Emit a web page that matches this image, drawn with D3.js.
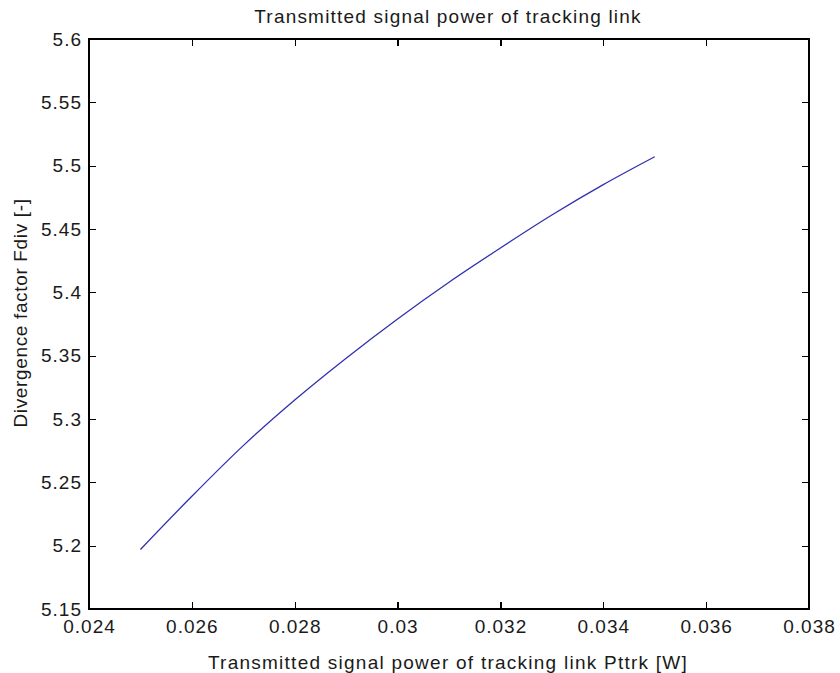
<!DOCTYPE html>
<html>
<head>
<meta charset="utf-8">
<script src="https://cdn.jsdelivr.net/npm/d3@7"></script>
<style>
  html, body { margin: 0; padding: 0; background: #fff; }
  svg text { font-family: "Liberation Sans", Arial, sans-serif; fill: #1a1a1a; }
</style>
</head>
<body>
<svg id="chart" width="840" height="673"></svg>
<script>
const titleText = "Transmitted signal power of tracking link";
const xLabelText = "Transmitted signal power of tracking link Pttrk [W]";
const yLabelText = "Divergence factor Fdiv [-]";

const powerW = [0.025, 0.026, 0.027, 0.028, 0.029, 0.030, 0.031, 0.032, 0.033, 0.034, 0.035];
const fdiv   = [5.197, 5.239, 5.279, 5.315, 5.348, 5.379, 5.408, 5.435, 5.461, 5.485, 5.507];

const xTicks = [0.024, 0.026, 0.028, 0.030, 0.032, 0.034, 0.036, 0.038];
const xTickLabels = ["0.024", "0.026", "0.028", "0.03", "0.032", "0.034", "0.036", "0.038"];
const yTicks = [5.15, 5.2, 5.25, 5.3, 5.35, 5.4, 5.45, 5.5, 5.55, 5.6];
const yTickLabels = ["5.15", "5.2", "5.25", "5.3", "5.35", "5.4", "5.45", "5.5", "5.55", "5.6"];

const svg = d3.select("#chart");
const mLeft = 89, mRight = 809, mTop = 39, mBottom = 609;
const tickLen = 7;
const fontSize = 19, ls = 1;

const x = d3.scaleLinear().domain([0.024, 0.038]).range([mLeft, mRight]);
const y = d3.scaleLinear().domain([5.15, 5.6]).range([mBottom, mTop]);

svg.append("rect").attr("x", mLeft).attr("y", mTop).attr("width", mRight - mLeft).attr("height", mBottom - mTop)
  .attr("fill", "#fff").attr("stroke", "#000").attr("stroke-width", 1.2).attr("shape-rendering", "crispEdges");

const xAxisB = d3.axisBottom(x).tickValues(xTicks).tickSize(-tickLen).tickFormat((d, i) => xTickLabels[i]).tickPadding(11);
const gxb = svg.append("g").attr("transform", `translate(0,${mBottom})`).call(xAxisB);
const xAxisT = d3.axisTop(x).tickValues(xTicks).tickSize(-tickLen).tickFormat("");
const gxt = svg.append("g").attr("transform", `translate(0,${mTop})`).call(xAxisT);
const yAxisL = d3.axisLeft(y).tickValues(yTicks).tickSize(-tickLen).tickFormat((d, i) => yTickLabels[i]).tickPadding(7);
const gyl = svg.append("g").attr("transform", `translate(${mLeft},0)`).call(yAxisL);
const yAxisR = d3.axisRight(y).tickValues(yTicks).tickSize(-tickLen).tickFormat("");
const gyr = svg.append("g").attr("transform", `translate(${mRight},0)`).call(yAxisR);

[gxb, gxt, gyl, gyr].forEach(g => {
  g.select(".domain").remove();
  g.selectAll(".tick line").attr("stroke", "#000").attr("stroke-width", 1.2).attr("shape-rendering", "crispEdges");
  g.selectAll("text").attr("font-family", "Liberation Sans, Arial, sans-serif")
    .attr("font-size", fontSize).attr("letter-spacing", ls).attr("fill", "#1a1a1a");
});

const line = d3.line().x((d, i) => x(powerW[i])).y((d, i) => y(fdiv[i])).curve(d3.curveMonotoneX);
svg.append("path").datum(fdiv).attr("d", line).attr("fill", "none")
  .attr("stroke", "#3030b0").attr("stroke-width", 1.3);

svg.append("text").attr("x", 448).attr("y", 23).attr("text-anchor", "middle")
  .attr("font-size", fontSize).attr("letter-spacing", 1.2).text(titleText);
svg.append("text").attr("x", 448).attr("y", 669).attr("text-anchor", "middle")
  .attr("font-size", fontSize).attr("letter-spacing", 1.25).text(xLabelText);
svg.append("text").attr("transform", `translate(27,313) rotate(-90)`).attr("text-anchor", "middle")
  .attr("font-size", fontSize).attr("letter-spacing", 0.65).text(yLabelText);
</script>
</body>
</html>
